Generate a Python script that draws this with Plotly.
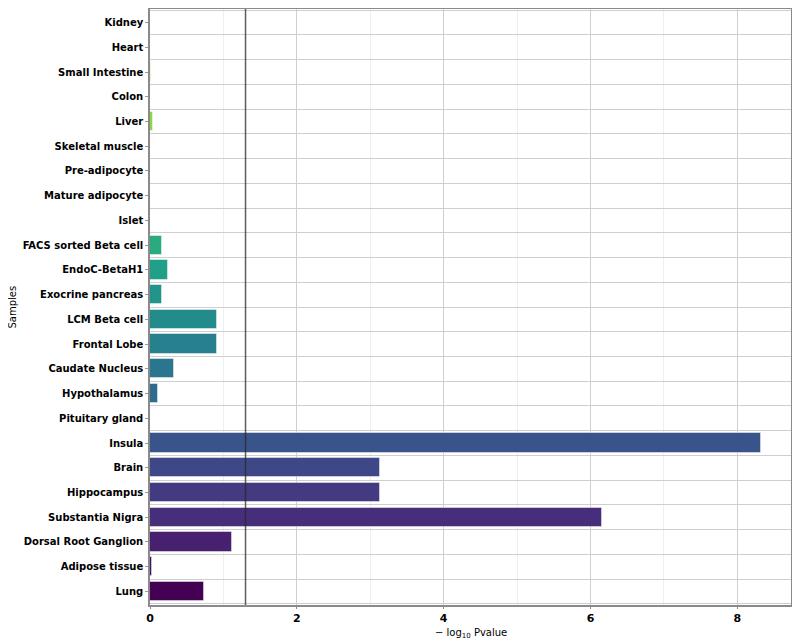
import math
import plotly.graph_objects as go
from plotly.colors import sample_colorscale

samples = ["Lung", "Adipose tissue", "Dorsal Root Ganglion", "Substantia Nigra", "Hippocampus",
           "Brain", "Insula", "Pituitary gland", "Hypothalamus", "Caudate Nucleus", "Frontal Lobe",
           "LCM Beta cell", "Exocrine pancreas", "EndoC-BetaH1", "FACS sorted Beta cell", "Islet",
           "Mature adipocyte", "Pre-adipocyte", "Skeletal muscle", "Liver", "Colon",
           "Small Intestine", "Heart", "Kidney"]
neglog10_p = [0.74, 0.03, 1.12, 6.16, 3.13,
              3.13, 8.32, 0.005, 0.11, 0.33, 0.91,
              0.91, 0.17, 0.24, 0.17, 0.0,
              0.003, 0.005, 0.005, 0.04, 0.0,
              0.02, 0.0, 0.0]
x_ticks = [0, 2, 4, 6, 8]
threshold = -math.log10(0.05)

n = len(samples)
idx = list(range(n))
colors = sample_colorscale("Viridis", [i / (n - 1) for i in idx])

fig = go.Figure()
fig.add_trace(go.Bar(
    x=neglog10_p, y=idx, orientation="h", width=0.78,
    marker=dict(color=colors, line=dict(color="rgba(255,255,255,0.45)", width=1)),
    showlegend=False,
))

fig.add_vline(x=threshold, line=dict(color="rgba(40,40,40,0.75)", width=1.5), layer="above")

fig.update_layout(
    width=792, height=635,
    margin=dict(l=142, r=9, t=1, b=38, autoexpand=False),
    plot_bgcolor="white", paper_bgcolor="white",
    font=dict(family="DejaVu Sans", size=10, color="black"),
    bargap=0,
)
fig.update_xaxes(
    range=[0, 8.73], tickvals=x_ticks, ticktext=[str(v) for v in x_ticks],
    tickfont=dict(family="DejaVu Sans", size=11, color="black", weight="bold"),
    showgrid=True, gridcolor="#cfcfcf", gridwidth=1,
    minor=dict(tick0=1, dtick=2, showgrid=True, gridcolor="#efefef", ticks=""),
    ticks="outside", ticklen=2, tickcolor="#888",
    showline=True, linecolor="#8a8a8a", linewidth=1.5, mirror=True,
    zeroline=False, automargin=False,
)
fig.update_yaxes(
    range=[-0.55, n - 0.45], tickvals=idx, ticktext=samples,
    tickfont=dict(family="DejaVu Sans", size=10, color="black", weight="bold"),
    showgrid=False,
    minor=dict(tick0=0.5, dtick=1, showgrid=True, gridcolor="#cfcfcf", gridwidth=1, ticks=""),
    ticks="outside", ticklen=3, tickcolor="#999",
    showline=True, linecolor="#8a8a8a", linewidth=1.5, mirror=True,
    zeroline=False, automargin=False,
)
fig.add_annotation(text="− log<sub>10</sub> Pvalue", xref="paper", yref="paper",
                   x=0.5, y=-0.033, xanchor="center", yanchor="top",
                   showarrow=False, font=dict(size=10))
fig.add_annotation(text="Samples", xref="paper", yref="paper",
                   x=-0.216, y=0.5, xanchor="center", yanchor="middle", textangle=-90,
                   showarrow=False, font=dict(size=10))

fig.write_html("out.html")
